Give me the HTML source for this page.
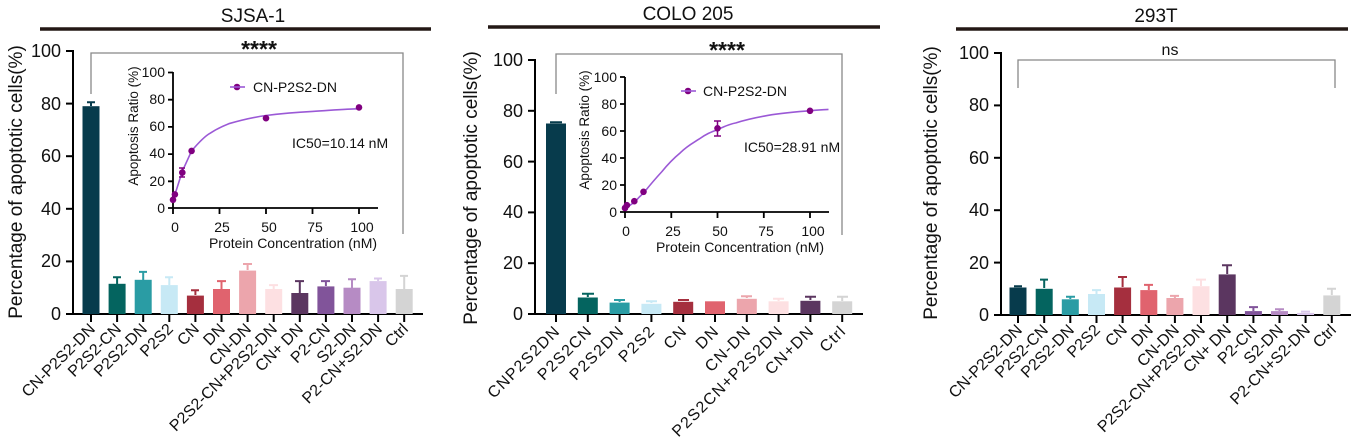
<!DOCTYPE html><html><head><meta charset="utf-8"><style>body{margin:0;background:#fff}svg{display:block;font-family:"Liberation Sans",Arial,sans-serif}</style></head><body>
<svg width="1359" height="447" viewBox="0 0 1359 447">
<g stroke="#231815" stroke-width="3.5"><line x1="40" y1="29" x2="431" y2="29"/><line x1="488" y1="27" x2="880" y2="27"/><line x1="956" y1="29" x2="1348" y2="29"/></g>
<g font-size="19" text-anchor="middle" fill="#111"><text x="253" y="22">SJSA-1</text><text x="688" y="20">COLO 205</text><text x="1156" y="22">293T</text></g>
<g stroke="#888" stroke-width="1.3" fill="none"><polyline points="91,94 91,53 403,53 403,234"/><polyline points="556,94 556,54 842,54 842,235"/><polyline points="1018,88 1018,60 1335,60 1335,88"/></g>
<g font-size="23" font-weight="bold" text-anchor="middle" fill="#111"><text x="259" y="57">****</text><text x="727" y="58">****</text></g>
<text x="1170" y="55" font-size="16" text-anchor="middle" fill="#111">ns</text>
<g font-size="19" text-anchor="middle" fill="#111"><text transform="translate(22,182) rotate(-90)">Percentage of apoptotic cells(%)</text><text transform="translate(477,188) rotate(-90)">Percentage of apoptotic cells(%)</text><text transform="translate(937,183) rotate(-90)">Percentage of apoptotic cells(%)</text></g>
<g stroke="#000" stroke-width="2" fill="none">
<polyline points="73,50 73,314 423,314"/>
<line x1="66" y1="51" x2="73" y2="51"/><line x1="66" y1="103.6" x2="73" y2="103.6"/><line x1="66" y1="156.2" x2="73" y2="156.2"/><line x1="66" y1="208.8" x2="73" y2="208.8"/><line x1="66" y1="261.4" x2="73" y2="261.4"/><line x1="66" y1="314" x2="73" y2="314"/>
<polyline points="535,59 535,314 863,314"/>
<line x1="528" y1="60" x2="535" y2="60"/><line x1="528" y1="110.8" x2="535" y2="110.8"/><line x1="528" y1="161.6" x2="535" y2="161.6"/><line x1="528" y1="212.4" x2="535" y2="212.4"/><line x1="528" y1="263.2" x2="535" y2="263.2"/><line x1="528" y1="314" x2="535" y2="314"/>
<polyline points="1001,52 1001,315 1351,315"/>
<line x1="994" y1="53" x2="1001" y2="53"/><line x1="994" y1="105.4" x2="1001" y2="105.4"/><line x1="994" y1="157.8" x2="1001" y2="157.8"/><line x1="994" y1="210.2" x2="1001" y2="210.2"/><line x1="994" y1="262.6" x2="1001" y2="262.6"/><line x1="994" y1="315" x2="1001" y2="315"/>
</g>
<g font-size="18" text-anchor="end" fill="#111">
<text x="61" y="57">100</text><text x="61" y="110">80</text><text x="61" y="162">60</text><text x="61" y="215">40</text><text x="61" y="267">20</text><text x="61" y="320">0</text>
<text x="523" y="66">100</text><text x="523" y="117">80</text><text x="523" y="168">60</text><text x="523" y="218">40</text><text x="523" y="269">20</text><text x="523" y="320">0</text>
<text x="989" y="59">100</text><text x="989" y="111">80</text><text x="989" y="164">60</text><text x="989" y="216">40</text><text x="989" y="269">20</text><text x="989" y="321">0</text>
</g>
<g>
<rect x="82.5" y="106.2" width="17" height="207.8" fill="#073b4c"/>
<rect x="108.6" y="283.8" width="17" height="30.2" fill="#04645f"/>
<rect x="134.7" y="279.8" width="17" height="34.2" fill="#2a9ca4"/>
<rect x="160.8" y="285.1" width="17" height="28.9" fill="#c7e9f5"/>
<rect x="186.9" y="295.6" width="17" height="18.4" fill="#a52f3e"/>
<rect x="213" y="289" width="17" height="25" fill="#e0636e"/>
<rect x="239.1" y="270.6" width="17" height="43.4" fill="#eca5ac"/>
<rect x="265.2" y="289" width="17" height="25" fill="#fde0e2"/>
<rect x="291.3" y="293" width="17" height="21" fill="#5b3660"/>
<rect x="317.4" y="286.4" width="17" height="27.6" fill="#81549a"/>
<rect x="343.5" y="287.7" width="17" height="26.3" fill="#b68bc4"/>
<rect x="369.6" y="281.1" width="17" height="32.9" fill="#d9c6ea"/>
<rect x="395.7" y="289" width="17" height="25" fill="#d4d4d4"/>
</g>
<g stroke-width="2">
<path d="M91 106V102.3M87 102.3H95" stroke="#073b4c"/>
<path d="M117.1 284V277.2M113 277.2H121" stroke="#04645f"/>
<path d="M143.2 280V271.9M139 271.9H147" stroke="#2a9ca4"/>
<path d="M169.3 285V277.2M165 277.2H173" stroke="#c7e9f5"/>
<path d="M195.4 295V290.3M191 290.3H199" stroke="#a52f3e"/>
<path d="M221.5 289V281.1M217 281.1H226" stroke="#e0636e"/>
<path d="M247.6 270V264M243 264H252" stroke="#eca5ac"/>
<path d="M273.7 289V285.1M269 285.1H278" stroke="#fde0e2"/>
<path d="M299.8 293V281.1M295 281.1H304" stroke="#5b3660"/>
<path d="M325.9 286V281.1M321 281.1H330" stroke="#81549a"/>
<path d="M352 288V279.3M348 279.3H356" stroke="#b68bc4"/>
<path d="M378.1 281V278.5M374 278.5H382" stroke="#d9c6ea"/>
<path d="M404.2 289V275.9M400 275.9H408" stroke="#d4d4d4"/>
</g>
<g>
<rect x="546" y="123.5" width="20" height="190.5" fill="#073b4c"/>
<rect x="577.8" y="297.5" width="20" height="16.5" fill="#04645f"/>
<rect x="609.6" y="302.6" width="20" height="11.4" fill="#2a9ca4"/>
<rect x="641.4" y="303.8" width="20" height="10.2" fill="#c7e9f5"/>
<rect x="673.2" y="301.8" width="20" height="12.2" fill="#a52f3e"/>
<rect x="705" y="301.3" width="20" height="12.7" fill="#e0636e"/>
<rect x="736.8" y="298.8" width="20" height="15.2" fill="#eca5ac"/>
<rect x="768.6" y="301.3" width="20" height="12.7" fill="#fde0e2"/>
<rect x="800.4" y="300.8" width="20" height="13.2" fill="#5b3660"/>
<rect x="832.2" y="301.3" width="20" height="12.7" fill="#d4d4d4"/>
</g>
<g stroke-width="2">
<path d="M556 123V122.2M550 122.2H562" stroke="#073b4c"/>
<path d="M587.8 297V293.7M582 293.7H594" stroke="#04645f"/>
<path d="M619.6 302V300M614 300H625" stroke="#2a9ca4"/>
<path d="M651.4 303V301.3M646 301.3H657" stroke="#c7e9f5"/>
<path d="M683.2 301V300M678 300H689" stroke="#a52f3e"/>
<path d="M746.8 298V296.2M741 296.2H752" stroke="#eca5ac"/>
<path d="M778.6 301V298.8M773 298.8H784" stroke="#fde0e2"/>
<path d="M810.4 300V296.7M805 296.7H816" stroke="#5b3660"/>
<path d="M842.2 301V296.7M837 296.7H848" stroke="#d4d4d4"/>
</g>
<g>
<rect x="1009.5" y="287.5" width="17" height="27.5" fill="#073b4c"/>
<rect x="1035.7" y="288.8" width="17" height="26.2" fill="#04645f"/>
<rect x="1061.8" y="299.3" width="17" height="15.7" fill="#2a9ca4"/>
<rect x="1088" y="294" width="17" height="21" fill="#c7e9f5"/>
<rect x="1114.1" y="287.5" width="17" height="27.5" fill="#a52f3e"/>
<rect x="1140.3" y="290.1" width="17" height="24.9" fill="#e0636e"/>
<rect x="1166.4" y="298" width="17" height="17" fill="#eca5ac"/>
<rect x="1192.5" y="286.2" width="17" height="28.8" fill="#fde0e2"/>
<rect x="1218.7" y="274.4" width="17" height="40.6" fill="#5b3660"/>
<rect x="1244.9" y="311.1" width="17" height="3.9" fill="#81549a"/>
<rect x="1271" y="311.1" width="17" height="3.9" fill="#b68bc4"/>
<rect x="1297.1" y="312.9" width="17" height="2.1" fill="#d9c6ea"/>
<rect x="1323.3" y="295.4" width="17" height="19.6" fill="#d4d4d4"/>
</g>
<g stroke-width="2">
<path d="M1018 287V286.2M1014 286.2H1022" stroke="#073b4c"/>
<path d="M1044.2 288V279.6M1040 279.6H1048" stroke="#04645f"/>
<path d="M1070.3 299V296.7M1066 296.7H1075" stroke="#2a9ca4"/>
<path d="M1096.5 294V290.1M1092 290.1H1101" stroke="#c7e9f5"/>
<path d="M1122.6 287V277M1118 277H1127" stroke="#a52f3e"/>
<path d="M1148.8 290V284.9M1144 284.9H1153" stroke="#e0636e"/>
<path d="M1174.9 298V295.9M1170 295.9H1179" stroke="#eca5ac"/>
<path d="M1201 286V279.6M1196 279.6H1206" stroke="#fde0e2"/>
<path d="M1227.2 274V265.2M1222 265.2H1232" stroke="#5b3660"/>
<path d="M1253.4 311V307.1M1249 307.1H1258" stroke="#81549a"/>
<path d="M1279.5 311V309.2M1275 309.2H1284" stroke="#b68bc4"/>
<path d="M1305.6 312V311.6M1301 311.6H1310" stroke="#d9c6ea"/>
<path d="M1331.8 295V288.8M1327 288.8H1336" stroke="#d4d4d4"/>
</g>
<g stroke="#000" stroke-width="2">
<path d="M91 314v8M117.1 314v8M143.2 314v8M169.3 314v8M195.4 314v8M221.5 314v8M247.6 314v8M273.7 314v8M299.8 314v8M325.9 314v8M352 314v8M378.1 314v8M404.2 314v8"/>
<path d="M556 314v8M587.8 314v8M619.6 314v8M651.4 314v8M683.2 314v8M715 314v8M746.8 314v8M778.6 314v8M810.4 314v8M842.2 314v8"/>
<path d="M1018 315v8M1044.2 315v8M1070.3 315v8M1096.5 315v8M1122.6 315v8M1148.8 315v8M1174.9 315v8M1201 315v8M1227.2 315v8M1253.4 315v8M1279.5 315v8M1305.6 315v8M1331.8 315v8"/>
</g>
<g font-size="16" text-anchor="end" fill="#111">
<text transform="translate(96,330) rotate(-45)">CN-P2S2-DN</text>
<text transform="translate(122,330) rotate(-45)">P2S2-CN</text>
<text transform="translate(148,330) rotate(-45)">P2S2-DN</text>
<text transform="translate(174,330) rotate(-45)">P2S2</text>
<text transform="translate(200,330) rotate(-45)">CN</text>
<text transform="translate(226,330) rotate(-45)">DN</text>
<text transform="translate(252,330) rotate(-45)">CN-DN</text>
<text transform="translate(278,330) rotate(-45)">P2S2-CN+P2S2-DN</text>
<text transform="translate(304,330) rotate(-45)">CN+ DN</text>
<text transform="translate(331,330) rotate(-45)">P2-CN</text>
<text transform="translate(357,330) rotate(-45)">S2-DN</text>
<text transform="translate(383,330) rotate(-45)">P2-CN+S2-DN</text>
<text transform="translate(409,330) rotate(-45)">Ctrl</text>
<text transform="translate(561,332) rotate(-45)" letter-spacing="1.2">CNP2S2DN</text>
<text transform="translate(593,332) rotate(-45)" letter-spacing="1.2">P2S2CN</text>
<text transform="translate(625,332) rotate(-45)" letter-spacing="1.2">P2S2DN</text>
<text transform="translate(656,332) rotate(-45)" letter-spacing="1.2">P2S2</text>
<text transform="translate(688,332) rotate(-45)" letter-spacing="1.2">CN</text>
<text transform="translate(720,332) rotate(-45)" letter-spacing="1.2">DN</text>
<text transform="translate(752,332) rotate(-45)" letter-spacing="1.2">CN-DN</text>
<text transform="translate(784,332) rotate(-45)" letter-spacing="1.2">P2S2CN+P2S2DN</text>
<text transform="translate(815,332) rotate(-45)" letter-spacing="1.2">CN+DN</text>
<text transform="translate(847,332) rotate(-45)" letter-spacing="1.2">Ctrl</text>
<text transform="translate(1023,331) rotate(-45)">CN-P2S2-DN</text>
<text transform="translate(1049,331) rotate(-45)">P2S2-CN</text>
<text transform="translate(1075,331) rotate(-45)">P2S2-DN</text>
<text transform="translate(1101,331) rotate(-45)">P2S2</text>
<text transform="translate(1128,331) rotate(-45)">CN</text>
<text transform="translate(1154,331) rotate(-45)">DN</text>
<text transform="translate(1180,331) rotate(-45)">CN-DN</text>
<text transform="translate(1206,331) rotate(-45)">P2S2-CN+P2S2-DN</text>
<text transform="translate(1232,331) rotate(-45)">CN+ DN</text>
<text transform="translate(1258,331) rotate(-45)">P2-CN</text>
<text transform="translate(1284,331) rotate(-45)">S2-DN</text>
<text transform="translate(1311,331) rotate(-45)">P2-CN+S2-DN</text>
<text transform="translate(1337,331) rotate(-45)">Ctrl</text>
</g>
<g stroke="#000" stroke-width="1.8" fill="none">
<polyline points="173,72 173,208 378,208"/>
<path d="M168 72.5h5M168 99.7h5M168 126.9h5M168 154.1h5M168 181.3h5M168 208h5"/>
<path d="M173 208v6M219.5 208v6M266 208v6M312.5 208v6M359 208v6"/>
</g>
<g font-size="14" fill="#111" text-anchor="end">
<text x="165" y="77">100</text><text x="165" y="104">80</text><text x="165" y="131">60</text><text x="165" y="158">40</text><text x="165" y="186">20</text><text x="165" y="213">0</text>
</g>
<g font-size="14" fill="#111" text-anchor="middle">
<text x="175" y="232">0</text><text x="222" y="232">25</text><text x="269" y="232">50</text><text x="315" y="232">75</text><text x="362" y="232">100</text>
<text x="293" y="248">Protein Concentration (nM)</text>
<text transform="translate(138,126) rotate(-90)" font-size="13.5">Apoptosis Ratio (%)</text>
</g>
<path d="M173,199.8 L176.7,189 L182.3,171.3 L191.6,150.9 C200,141 205,136 210.2,133.2 C218,128 223,126 228.8,123.7 C245,119 255,117 266,115.5 C285,113 300,112 312.5,111.4 C335,110 348,109 359,108.7" stroke="#9b59d6" stroke-width="1.6" fill="none"/>
<g stroke="#800080" stroke-width="1.5"><path d="M182.3 168v9M179 168h6M179 177h6"/></g>
<g fill="#800080"><circle cx="173" cy="199.8" r="3.3"/><circle cx="174.9" cy="194.4" r="3.3"/><circle cx="182.3" cy="172.6" r="3.3"/><circle cx="191.6" cy="150.9" r="3.3"/><circle cx="266" cy="118.2" r="3.3"/><circle cx="359" cy="107.4" r="3.3"/><circle cx="237" cy="87" r="3.3"/></g>
<line x1="230" y1="87" x2="245" y2="87" stroke="#9b59d6" stroke-width="1.6"/>
<text x="253" y="92" font-size="14" fill="#111">CN-P2S2-DN</text>
<text x="292" y="148" font-size="14" fill="#111">IC50=10.14 nM</text>
<g stroke="#000" stroke-width="1.8" fill="none">
<polyline points="625,77 625,212 829,212"/>
<path d="M620 77h5M620 104h5M620 131h5M620 158h5M620 185h5M620 212h5"/>
<path d="M625 212v6M671.3 212v6M717.5 212v6M763.8 212v6M810 212v6"/>
</g>
<g font-size="14" fill="#111" text-anchor="end">
<text x="617" y="82">100</text><text x="617" y="109">80</text><text x="617" y="136">60</text><text x="617" y="163">40</text><text x="617" y="190">20</text><text x="617" y="217">0</text>
</g>
<g font-size="14" fill="#111" text-anchor="middle">
<text x="626" y="236">0</text><text x="673" y="236">25</text><text x="720" y="236">50</text><text x="766" y="236">75</text><text x="813" y="236">100</text>
<text x="740" y="252">Protein Concentration (nM)</text>
<text transform="translate(589,130) rotate(-90)" font-size="13.5">Apoptosis Ratio (%)</text>
</g>
<path d="M625,209.3 C630,205 631,204 634.3,202.6 C638,198 640,196 643.5,193.1 C650,185 656,178 662,171.5 C668,164 674,158 680.5,152.6 C687,146 693,143 699,139.1 C706,134 711,132 717.5,129.7 C725,126 730,124 736,122.9 C745,120 754,118 763.8,116.2 C780,113 795,112 810,110.8 C818,110 823,109.8 828.5,109.4" stroke="#9b59d6" stroke-width="1.6" fill="none"/>
<g stroke="#800080" stroke-width="1.5"><path d="M717.5 121v15M714 121h7M714 136h7"/></g>
<g fill="#800080"><circle cx="625" cy="208" r="3.3"/><circle cx="626.9" cy="205.2" r="3.3"/><circle cx="634.3" cy="201.2" r="3.3"/><circle cx="643.5" cy="191.8" r="3.3"/><circle cx="717.5" cy="128.3" r="3.3"/><circle cx="810" cy="110.8" r="3.3"/><circle cx="688" cy="91" r="3.3"/></g>
<line x1="681" y1="91" x2="696" y2="91" stroke="#9b59d6" stroke-width="1.6"/>
<text x="703" y="96" font-size="14" fill="#111">CN-P2S2-DN</text>
<text x="744" y="152" font-size="14" fill="#111">IC50=28.91 nM</text>
</svg>
</body></html>
